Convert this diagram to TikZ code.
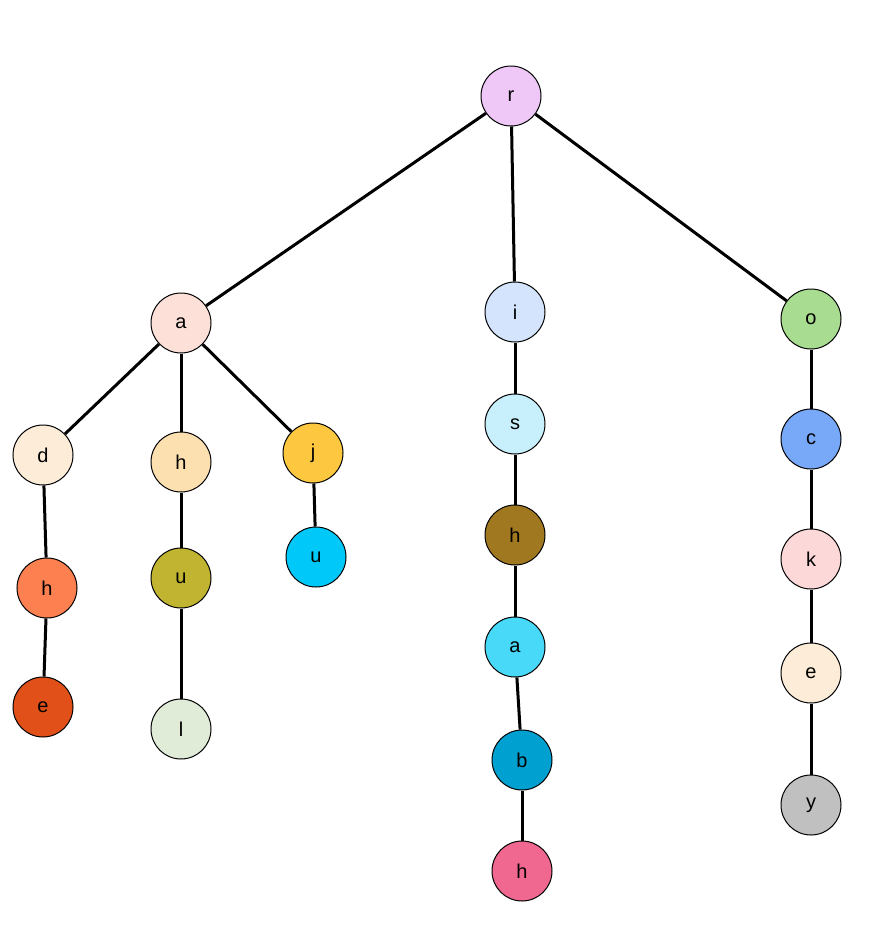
\documentclass[tikz,border=0pt]{standalone}
\usepackage{fontspec}
\setmainfont{Liberation Sans}
\begin{document}
\begin{tikzpicture}[x=1pt,y=-1pt,
  tn/.style={circle,draw=black,line width=1pt,minimum size=60pt,inner sep=0pt,font=\fontsize{20}{24}\selectfont},
  edge/.style={line width=3pt}]
\useasboundingbox (0,0) rectangle (880,926);
\definecolor{cr}{HTML}{F0C8F8}
\definecolor{ca}{HTML}{FDE0D8}
\definecolor{ci}{HTML}{D4E4FC}
\definecolor{co}{HTML}{A8DC90}
\definecolor{cd}{HTML}{FDECD8}
\definecolor{ch}{HTML}{FDE0B0}
\definecolor{cj}{HTML}{FDC840}
\definecolor{cu}{HTML}{00C8F8}
\definecolor{chb}{HTML}{FD8050}
\definecolor{ce}{HTML}{E05018}
\definecolor{cub}{HTML}{C0B430}
\definecolor{cl}{HTML}{E0ECD8}
\definecolor{cs}{HTML}{C8F0FC}
\definecolor{chc}{HTML}{A07820}
\definecolor{cab}{HTML}{48D8F8}
\definecolor{cb}{HTML}{00A0D0}
\definecolor{chd}{HTML}{F06890}
\definecolor{cc}{HTML}{78A8F8}
\definecolor{ck}{HTML}{FDD8D8}
\definecolor{ceb}{HTML}{FDECD8}
\definecolor{cy}{HTML}{C0C0C0}
\node[tn,fill=cr] (r) at (511,96) {r};
\node[tn,fill=ca] (a) at (181,323) {a};
\node[tn,fill=ci] (i) at (515,312) {i};
\node[tn,fill=co] (o) at (811,319) {o};
\node[tn,fill=cd] (d) at (43,455) {d};
\node[tn,fill=ch] (h1) at (181,462) {h};
\node[tn,fill=cj] (j) at (313,453) {j};
\node[tn,fill=cu] (u1) at (316,557) {u};
\node[tn,fill=chb] (h2) at (47,588) {h};
\node[tn,fill=ce] (e1) at (43,707) {e};
\node[tn,fill=cub] (u2) at (181,578) {u};
\node[tn,fill=cl] (l) at (181,729) {l};
\node[tn,fill=cs] (s) at (515,424) {s};
\node[tn,fill=chc] (h3) at (515,535) {h};
\node[tn,fill=cab] (a2) at (515,647) {a};
\node[tn,fill=cb] (b) at (522,760) {b};
\node[tn,fill=chd] (h4) at (522,871) {h};
\node[tn,fill=cc] (c) at (811,439) {c};
\node[tn,fill=ck] (k) at (811,559) {k};
\node[tn,fill=ceb] (e2) at (811,673) {e};
\node[tn,fill=cy] (y) at (811,805) {y};
\foreach \p/\q in {r/a,r/i,r/o,a/d,a/h1,a/j,j/u1,d/h2,h2/e1,h1/u2,u2/l,i/s,s/h3,h3/a2,a2/b,b/h4,o/c,c/k,k/e2,e2/y}
  \draw[edge] (\p) -- (\q);
\end{tikzpicture}
\end{document}
